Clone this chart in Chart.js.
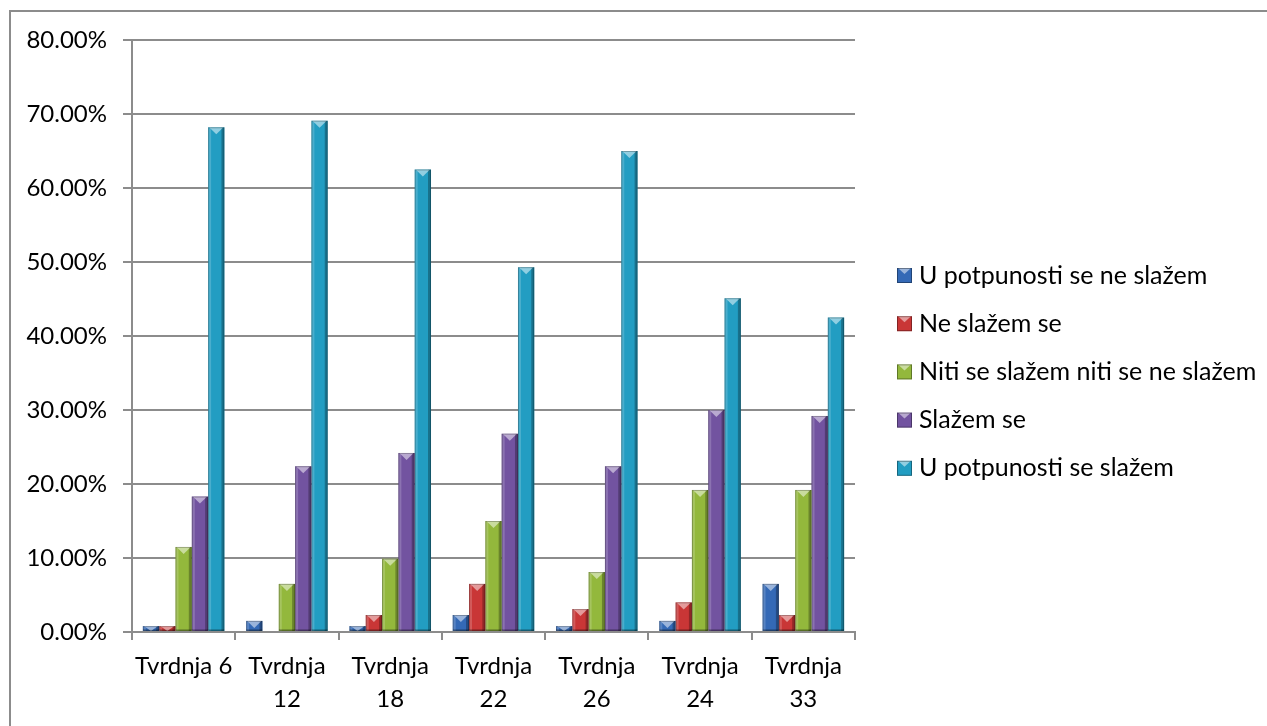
<!DOCTYPE html>
<html>
<head>
<meta charset="utf-8">
<script src="https://cdn.jsdelivr.net/npm/chart.js@4.4.1/dist/chart.umd.min.js"></script>
<style>
  html, body { margin: 0; padding: 0; width: 1267px; height: 726px; overflow: hidden; background: #fff; }
  #frame { position: absolute; left: 9px; top: 10px; width: 1400px; height: 800px; border: 2px solid #8c8c8c; box-sizing: border-box; }
  #wrap { position: absolute; left: 0; top: 0; width: 1267px; height: 726px; }
</style>
</head>
<body>
<div id="frame"></div>
<div id="wrap"><canvas id="c" width="1267" height="726"></canvas></div>
<script>
const categories = ["Tvrdnja 6", ["Tvrdnja", "12"], ["Tvrdnja", "18"], ["Tvrdnja", "22"], ["Tvrdnja", "26"], ["Tvrdnja", "24"], ["Tvrdnja", "33"]];
const seriesNames = ["U potpunosti se ne slažem", "Ne slažem se", "Niti se slažem niti se ne slažem", "Slažem se", "U potpunosti se slažem"];
const uPotpunostiNe = [0.8, 1.5, 0.8, 2.3, 0.8, 1.5, 6.5];
const neSlazem = [0.8, 0, 2.3, 6.5, 3.1, 4.0, 2.3];
const niti = [11.5, 6.5, 9.9, 15.0, 8.1, 19.2, 19.2];
const slazem = [18.3, 22.4, 24.2, 26.8, 22.4, 30.0, 29.2];
const uPotpunostiDa = [68.2, 69.1, 62.5, 49.3, 65.0, 45.1, 42.5];
const yTicks = [0, 10, 20, 30, 40, 50, 60, 70, 80];

const colors = ["#3469b6", "#c93636", "#93b83c", "#7253a0", "#229dc2"];
const FONT = "Lato";

const bevel = {
  id: 'bevel',
  afterDatasetsDraw(chart) {
    const ctx = chart.ctx;
    chart.data.datasets.forEach((ds, di) => {
      const meta = chart.getDatasetMeta(di);
      meta.data.forEach(el => {
        const w = el.width, l = el.x - w / 2, r = el.x + w / 2, t = Math.min(el.y, el.base), b = Math.max(el.y, el.base);
        const h = b - t;
        if (h <= 0.5) return;
        ctx.save();
        ctx.beginPath(); ctx.rect(l, t, w, h); ctx.clip();
        ctx.fillStyle = 'rgba(255,255,255,0.18)';
        ctx.fillRect(l, t, 3, h);
        ctx.fillStyle = 'rgba(0,0,0,0.28)';
        ctx.fillRect(r - 3, t, 3, h);
        ctx.fillStyle = 'rgba(0,0,0,0.2)';
        ctx.fillRect(l, b - 2, w, 2);
        const th = Math.min(7, h);
        ctx.fillStyle = 'rgba(255,255,255,0.5)';
        ctx.beginPath();
        ctx.moveTo(l + 1, t); ctx.lineTo(r - 1, t); ctx.lineTo(el.x, t + th); ctx.closePath(); ctx.fill();
        ctx.restore();
        ctx.save();
        ctx.strokeStyle = 'rgba(0,0,0,0.25)';
        ctx.lineWidth = 1;
        ctx.strokeRect(l + 0.5, t + 0.5, w - 1, h - 1);
        ctx.restore();
      });
    });
  }
};

const customLegend = {
  id: 'customLegend',
  afterDraw(chart) {
    const ctx = chart.ctx;
    ctx.save();
    ctx.font = `25px ${FONT}`;
    ctx.textBaseline = 'middle';
    ctx.textAlign = 'left';
    chart.data.datasets.forEach((ds, i) => {
      const cy = 275.5 + i * 48.2;
      const x = 897, s = 15;
      ctx.fillStyle = ds.backgroundColor;
      ctx.fillRect(x, cy - s / 2, s, s);
      ctx.fillStyle = 'rgba(255,255,255,0.5)';
      ctx.beginPath(); ctx.moveTo(x + 1, cy - s / 2); ctx.lineTo(x + s - 1, cy - s / 2); ctx.lineTo(x + s / 2, cy - s / 2 + 6); ctx.closePath(); ctx.fill();
      ctx.strokeStyle = 'rgba(0,0,0,0.35)';
      ctx.lineWidth = 1;
      ctx.strokeRect(x + 0.5, cy - s / 2 + 0.5, s - 1, s - 1);
      ctx.fillStyle = '#000';
      ctx.fillText(ds.label, 919, cy);
    });
    ctx.restore();
  }
};

const seriesData = [uPotpunostiNe, neSlazem, niti, slazem, uPotpunostiDa];

new Chart(document.getElementById('c'), {
  type: 'bar',
  data: {
    labels: categories,
    datasets: seriesNames.map((n, i) => ({
      label: n,
      data: seriesData[i],
      backgroundColor: colors[i],
      borderWidth: 0,
      categoryPercentage: 0.79,
      barPercentage: 1.0
    }))
  },
  options: {
    responsive: false,
    animation: false,
    devicePixelRatio: 1,
    layout: { padding: { left: 0, top: 40, right: 412, bottom: 0 } },
    plugins: { legend: { display: false }, tooltip: { enabled: false } },
    scales: {
      x: {
        grid: { drawOnChartArea: false, drawTicks: true, tickLength: 8, color: '#8c8c8c', lineWidth: 2, offset: true },
        border: { color: '#8c8c8c', width: 2 },
        ticks: { font: { family: FONT, size: 24, lineHeight: 1.4 }, color: '#000', maxRotation: 0, autoSkip: false, padding: 9 },
        afterFit(s) { s.height = 726 - 632; }
      },
      y: {
        min: 0, max: 80,
        afterBuildTicks(s) { s.ticks = yTicks.map(v => ({ value: v })); },
        grid: { color: '#8c8c8c', lineWidth: 2, tickLength: 9 },
        border: { color: '#8c8c8c', width: 2 },
        ticks: { font: { family: FONT, size: 24 }, color: '#000', padding: 16, callback: v => v.toFixed(2) + '%' },
        afterFit(s) { s.width = 132; }
      }
    }
  },
  plugins: [bevel, customLegend]
});
</script>
</body>
</html>
